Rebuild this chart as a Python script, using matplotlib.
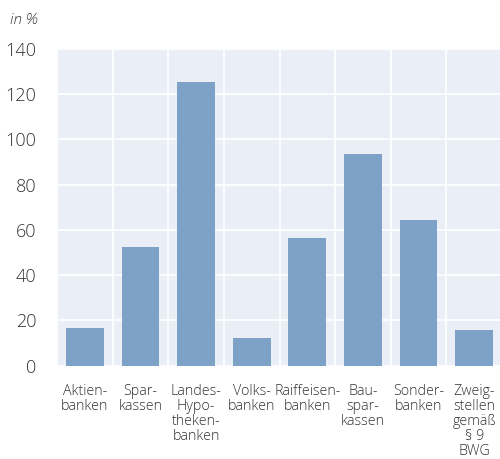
import numpy as np
import matplotlib.pyplot as plt

categories = ["Aktien-\nbanken", "Spar-\nkassen", "Landes-\nHypo-\ntheken-\nbanken",
              "Volks-\nbanken", "Raiffeisen-\nbanken", "Bau-\nspar-\nkassen",
              "Sonder-\nbanken", "Zweig-\nstellen\ngemäß\n§ 9\nBWG"]
values = [16.6, 52.6, 125.2, 12.2, 56.3, 93.4, 64.3, 15.8]
yticks = [0, 20, 40, 60, 80, 100, 120, 140]

plt.rcParams['font.family'] = ['Open Sans', 'DejaVu Sans']

fig = plt.figure(figsize=(5, 4.59), dpi=100)
ax = fig.add_axes([57 / 500, 1 - 365.7 / 459, 445 / 500, 317 / 459])
ax.set_facecolor('#eaeef6')

x = np.arange(len(values))
ax.bar(x, values, width=0.68, color='#7ea2c7', zorder=3)

ax.set_xlim(-0.5, len(values) - 0.5)
ax.set_ylim(0, 140)
ax.set_yticks(yticks)
ax.set_yticklabels([str(t) for t in yticks], fontsize=13, color='#333333', fontweight='light')
ax.set_xticks(x)
ax.set_xticklabels(categories, fontsize=10.3, color='#333333', fontweight='light',
                   linespacing=1.0)
ax.set_xticks(np.arange(len(values) + 1) - 0.5, minor=True)
ax.tick_params(axis='both', which='both', length=0)
ax.tick_params(axis='y', pad=15)
ax.tick_params(axis='x', pad=13)

ax.grid(axis='y', which='major', color='white', linewidth=1.2, zorder=1)
ax.grid(axis='x', which='minor', color='white', linewidth=1.2, zorder=1)
for s in ax.spines.values():
    s.set_visible(False)

fig.text(10 / 500, 1 - 20 / 459, 'in %', fontsize=11, style='italic', color='#333333',
         va='center', ha='left', fontweight='light')

fig.savefig('out.png', dpi=100)
